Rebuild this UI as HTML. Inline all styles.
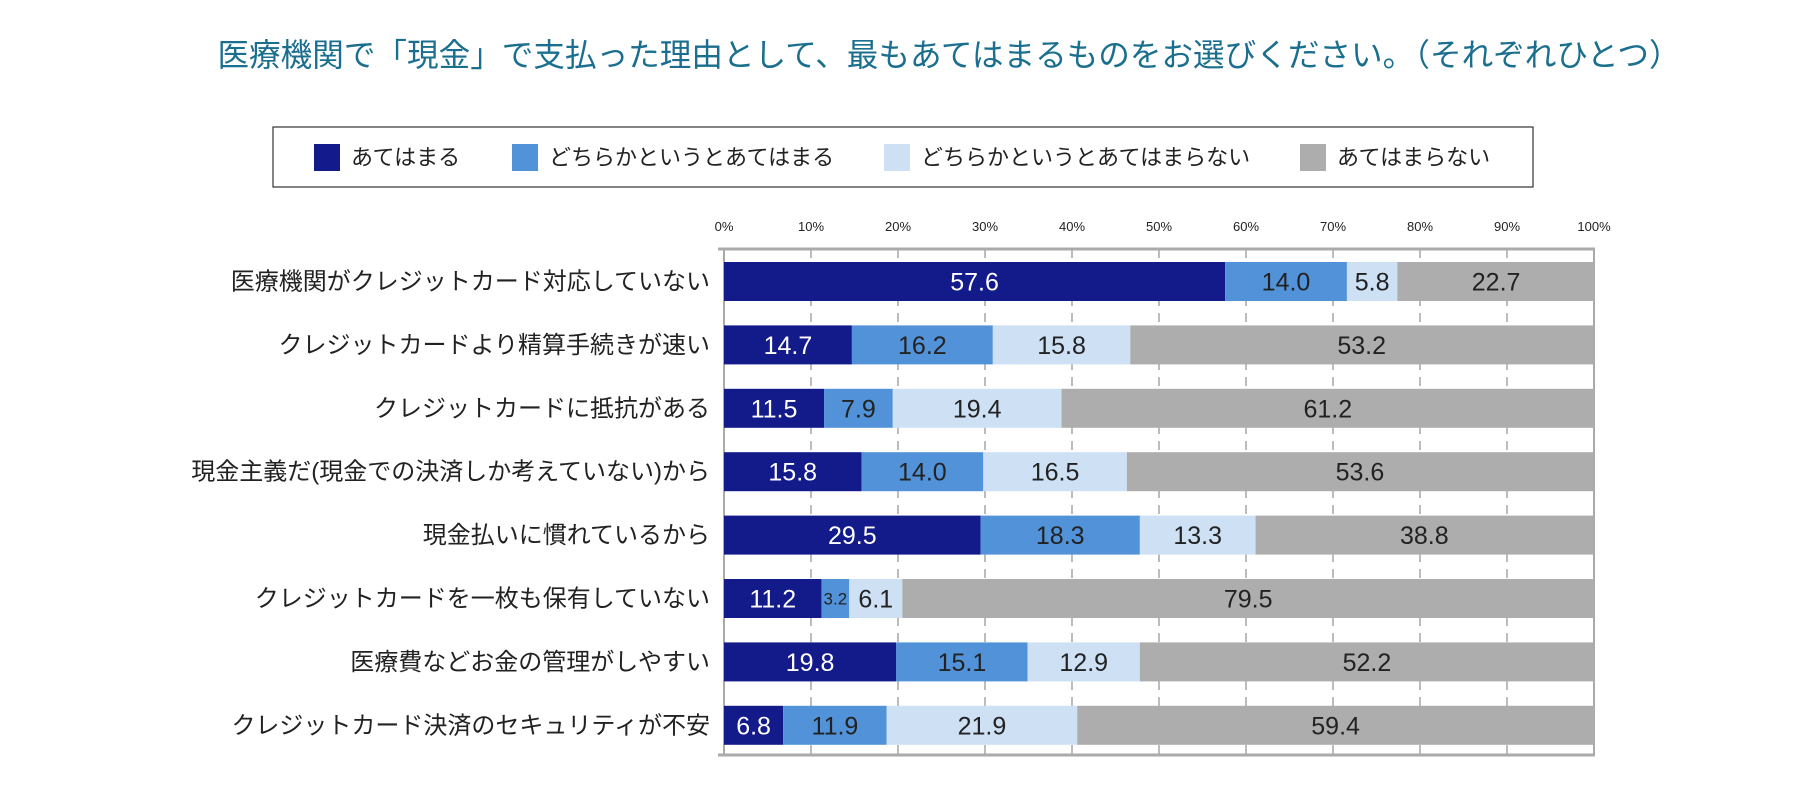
<!DOCTYPE html>
<html><head><meta charset="utf-8"><style>
body{margin:0;background:#fff;width:1800px;height:792px;overflow:hidden;font-family:"Liberation Sans","Noto Sans CJK JP",sans-serif;}
</style></head><body>
<svg id="chart" width="1800" height="792" xmlns="http://www.w3.org/2000/svg">
<text x="949" y="66" text-anchor="middle" font-size="31.6" fill="#1a6e8e" font-family="Liberation Sans, Noto Sans CJK JP, sans-serif">医療機関で「現金」で支払った理由として、最もあてはまるものをお選びください。（それぞれひとつ）</text>
<rect x="273" y="127" width="1260" height="60" fill="#fff" stroke="#333" stroke-width="1.2"/>
<g id="legend"></g>
<g id="grid"></g>
<g id="bars"></g>
</svg>
<script>
const categories=["医療機関がクレジットカード対応していない","クレジットカードより精算手続きが速い","クレジットカードに抵抗がある","現金主義だ(現金での決済しか考えていない)から","現金払いに慣れているから","クレジットカードを一枚も保有していない","医療費などお金の管理がしやすい","クレジットカード決済のセキュリティが不安"];
const seriesNames=["あてはまる","どちらかというとあてはまる","どちらかというとあてはまらない","あてはまらない"];
const s1=[57.6,14.7,11.5,15.8,29.5,11.2,19.8,6.8];
const s2=[14.0,16.2,7.9,14.0,18.3,3.2,15.1,11.9];
const s3=[5.8,15.8,19.4,16.5,13.3,6.1,12.9,21.9];
const s4=[22.7,53.2,61.2,53.6,38.8,79.5,52.2,59.4];
const ticks=["0%","10%","20%","30%","40%","50%","60%","70%","80%","90%","100%"];
const colors=["#131a8a","#5292d9","#cde0f4","#adadad"];
const textColors=["#fff","#222","#222","#222"];
const NS="http://www.w3.org/2000/svg";
const X0=724,X1=1594,Y0=262,PITCH=63.4,BH=39;
const xs=v=>X0+(X1-X0)*v/100;
function el(t,a,p){const e=document.createElementNS(NS,t);for(const k in a)e.setAttribute(k,a[k]);p.appendChild(e);return e;}
const grid=document.getElementById('grid'),bars=document.getElementById('bars'),leg=document.getElementById('legend');
const legX=[314,512,884,1300];
seriesNames.forEach((n,i)=>{
 const r=el('rect',{x:legX[i],y:144,width:26,height:27,fill:colors[i]},leg);
 
 
 const t=el('text',{x:legX[i]+37,y:165,'font-size':22,fill:'#222'},leg);t.textContent=n;
 
 
});
ticks.forEach((tk,i)=>{
 const x=xs(i*10);
 const l=el('line',{x1:x,x2:x,y1:249,y2:755,stroke:'#999','stroke-width':1.3,'stroke-dasharray':'9,7'},grid);
 
 
 const t=el('text',{x:x,y:231,'font-size':13,'text-anchor':'middle',fill:'#222'},grid);t.textContent=tk;
 
 
});
const series=[s1,s2,s3,s4];
categories.forEach((c,ci)=>{
 const y=Y0+ci*PITCH;
 const lab=el('text',{x:710,y:y+BH/2+8,'font-size':24,'text-anchor':'end',fill:'#222'},bars);lab.textContent=c;
 
 
 let acc=0;
 series.forEach((s,si)=>{
  const v=s[ci];const x=xs(acc),w=xs(acc+v)-x;acc+=v;
  const r=el('rect',{x:x,y:y,width:w,height:BH,fill:colors[si]},bars);
  
  
  const small=v<5;
  const t=el('text',{x:x+w/2,y:y+BH/2+(small?6:9),'font-size':small?17:25,'text-anchor':'middle',fill:textColors[si]},bars);
  t.textContent=v.toFixed(1);
  
  
 });
});
const a1=el('line',{x1:718,x2:1595,y1:249,y2:249,stroke:'#aaa','stroke-width':3},grid);


const a2=el('line',{x1:718,x2:1595,y1:755,y2:755,stroke:'#aaa','stroke-width':3},grid);


const a3=el('line',{x1:X0,x2:X0,y1:249,y2:755,stroke:'#aaa','stroke-width':2},grid);


const a4=el('line',{x1:X1,x2:X1,y1:249,y2:755,stroke:'#aaa','stroke-width':2},grid);


</script>
</body></html>
